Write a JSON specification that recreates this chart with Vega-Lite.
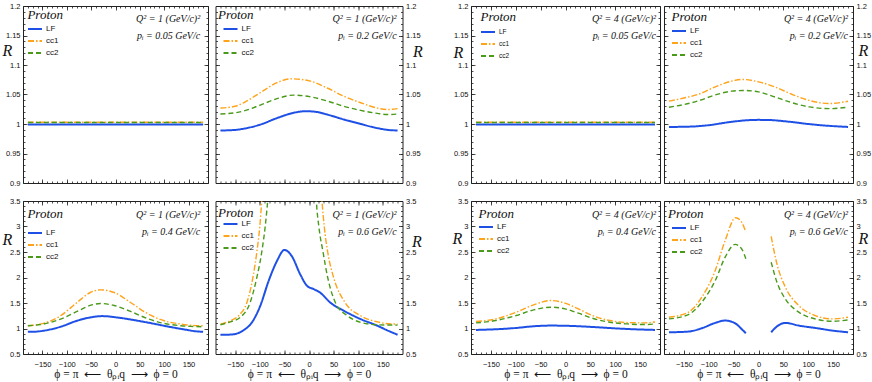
{
"$schema": "https://vega.github.io/schema/vega-lite/v6.json",
"padding": {"left": 1, "top": 1, "right": 0, "bottom": 0},
"datasets": {
"notes": [
{"p":1,"n":"Proton","q":"Q² = 1 (GeV/c)²","m":"pᵢ = 0.05 GeV/c"},
{"p":2,"n":"Proton","q":"Q² = 1 (GeV/c)²","m":"pᵢ = 0.2 GeV/c"},
{"p":3,"n":"Proton","q":"Q² = 4 (GeV/c)²","m":"pᵢ = 0.05 GeV/c"},
{"p":4,"n":"Proton","q":"Q² = 4 (GeV/c)²","m":"pᵢ = 0.2 GeV/c"},
{"p":5,"n":"Proton","q":"Q² = 1 (GeV/c)²","m":"pᵢ = 0.4 GeV/c"},
{"p":6,"n":"Proton","q":"Q² = 1 (GeV/c)²","m":"pᵢ = 0.6 GeV/c"},
{"p":7,"n":"Proton","q":"Q² = 4 (GeV/c)²","m":"pᵢ = 0.4 GeV/c"},
{"p":8,"n":"Proton","q":"Q² = 4 (GeV/c)²","m":"pᵢ = 0.6 GeV/c"}
],
"curves": [
{"p":1,"s":"LF","g":0,"x":-180,"R":0.9993},{"p":1,"s":"LF","g":0,"x":0,"R":0.9993},{"p":1,"s":"LF","g":0,"x":180,"R":0.9993},
{"p":1,"s":"cc1","g":0,"x":-180,"R":1.003},{"p":1,"s":"cc1","g":0,"x":0,"R":1.003},{"p":1,"s":"cc1","g":0,"x":180,"R":1.003},
{"p":1,"s":"cc2","g":0,"x":-180,"R":1.0025},{"p":1,"s":"cc2","g":0,"x":0,"R":1.0025},{"p":1,"s":"cc2","g":0,"x":180,"R":1.0025},

{"p":2,"s":"LF","g":0,"x":-180,"R":0.989},{"p":2,"s":"LF","g":0,"x":-150,"R":0.990},{"p":2,"s":"LF","g":0,"x":-133,"R":0.992},{"p":2,"s":"LF","g":0,"x":-99,"R":0.999},{"p":2,"s":"LF","g":0,"x":-65,"R":1.010},{"p":2,"s":"LF","g":0,"x":-31,"R":1.019},{"p":2,"s":"LF","g":0,"x":-7,"R":1.0217},{"p":2,"s":"LF","g":0,"x":15,"R":1.0205},{"p":2,"s":"LF","g":0,"x":37,"R":1.016},{"p":2,"s":"LF","g":0,"x":71,"R":1.0076},{"p":2,"s":"LF","g":0,"x":105,"R":1.0},{"p":2,"s":"LF","g":0,"x":139,"R":0.993},{"p":2,"s":"LF","g":0,"x":160,"R":0.990},{"p":2,"s":"LF","g":0,"x":180,"R":0.989},
{"p":2,"s":"cc1","g":0,"x":-180,"R":1.027},{"p":2,"s":"cc1","g":0,"x":-150,"R":1.030},{"p":2,"s":"cc1","g":0,"x":-133,"R":1.036},{"p":2,"s":"cc1","g":0,"x":-99,"R":1.053},{"p":2,"s":"cc1","g":0,"x":-65,"R":1.070},{"p":2,"s":"cc1","g":0,"x":-35,"R":1.0766},{"p":2,"s":"cc1","g":0,"x":3,"R":1.0726},{"p":2,"s":"cc1","g":0,"x":37,"R":1.061},{"p":2,"s":"cc1","g":0,"x":71,"R":1.047},{"p":2,"s":"cc1","g":0,"x":105,"R":1.036},{"p":2,"s":"cc1","g":0,"x":139,"R":1.027},{"p":2,"s":"cc1","g":0,"x":158,"R":1.0245},{"p":2,"s":"cc1","g":0,"x":180,"R":1.026},
{"p":2,"s":"cc2","g":0,"x":-180,"R":1.017},{"p":2,"s":"cc2","g":0,"x":-150,"R":1.019},{"p":2,"s":"cc2","g":0,"x":-133,"R":1.022},{"p":2,"s":"cc2","g":0,"x":-99,"R":1.032},{"p":2,"s":"cc2","g":0,"x":-65,"R":1.043},{"p":2,"s":"cc2","g":0,"x":-31,"R":1.049},{"p":2,"s":"cc2","g":0,"x":3,"R":1.046},{"p":2,"s":"cc2","g":0,"x":37,"R":1.039},{"p":2,"s":"cc2","g":0,"x":71,"R":1.030},{"p":2,"s":"cc2","g":0,"x":105,"R":1.023},{"p":2,"s":"cc2","g":0,"x":139,"R":1.018},{"p":2,"s":"cc2","g":0,"x":158,"R":1.016},{"p":2,"s":"cc2","g":0,"x":180,"R":1.017},

{"p":3,"s":"LF","g":0,"x":-180,"R":0.9993},{"p":3,"s":"LF","g":0,"x":0,"R":0.9993},{"p":3,"s":"LF","g":0,"x":180,"R":0.9993},
{"p":3,"s":"cc1","g":0,"x":-180,"R":1.003},{"p":3,"s":"cc1","g":0,"x":0,"R":1.003},{"p":3,"s":"cc1","g":0,"x":180,"R":1.003},
{"p":3,"s":"cc2","g":0,"x":-180,"R":1.0025},{"p":3,"s":"cc2","g":0,"x":0,"R":1.0025},{"p":3,"s":"cc2","g":0,"x":180,"R":1.0025},

{"p":4,"s":"LF","g":0,"x":-180,"R":0.995},{"p":4,"s":"LF","g":0,"x":-140,"R":0.9955},{"p":4,"s":"LF","g":0,"x":-100,"R":0.998},{"p":4,"s":"LF","g":0,"x":-60,"R":1.003},{"p":4,"s":"LF","g":0,"x":-20,"R":1.0065},{"p":4,"s":"LF","g":0,"x":0,"R":1.007},{"p":4,"s":"LF","g":0,"x":20,"R":1.0068},{"p":4,"s":"LF","g":0,"x":60,"R":1.004},{"p":4,"s":"LF","g":0,"x":100,"R":1.0},{"p":4,"s":"LF","g":0,"x":140,"R":0.997},{"p":4,"s":"LF","g":0,"x":180,"R":0.995},
{"p":4,"s":"cc1","g":0,"x":-180,"R":1.0387},{"p":4,"s":"cc1","g":0,"x":-150,"R":1.044},{"p":4,"s":"cc1","g":0,"x":-122,"R":1.050},{"p":4,"s":"cc1","g":0,"x":-88,"R":1.0625},{"p":4,"s":"cc1","g":0,"x":-54,"R":1.0726},{"p":4,"s":"cc1","g":0,"x":-34,"R":1.0755},{"p":4,"s":"cc1","g":0,"x":0,"R":1.0715},{"p":4,"s":"cc1","g":0,"x":34,"R":1.0625},{"p":4,"s":"cc1","g":0,"x":68,"R":1.050},{"p":4,"s":"cc1","g":0,"x":102,"R":1.040},{"p":4,"s":"cc1","g":0,"x":142,"R":1.0347},{"p":4,"s":"cc1","g":0,"x":180,"R":1.0385},
{"p":4,"s":"cc2","g":0,"x":-180,"R":1.0285},{"p":4,"s":"cc2","g":0,"x":-150,"R":1.033},{"p":4,"s":"cc2","g":0,"x":-122,"R":1.039},{"p":4,"s":"cc2","g":0,"x":-88,"R":1.049},{"p":4,"s":"cc2","g":0,"x":-54,"R":1.0557},{"p":4,"s":"cc2","g":0,"x":-31,"R":1.0568},{"p":4,"s":"cc2","g":0,"x":0,"R":1.0545},{"p":4,"s":"cc2","g":0,"x":34,"R":1.0455},{"p":4,"s":"cc2","g":0,"x":68,"R":1.036},{"p":4,"s":"cc2","g":0,"x":102,"R":1.029},{"p":4,"s":"cc2","g":0,"x":142,"R":1.026},{"p":4,"s":"cc2","g":0,"x":180,"R":1.0285},

{"p":5,"s":"LF","g":0,"x":-180,"R":0.935},{"p":5,"s":"LF","g":0,"x":-165,"R":0.938},{"p":5,"s":"LF","g":0,"x":-148,"R":0.956},{"p":5,"s":"LF","g":0,"x":-113,"R":1.034},{"p":5,"s":"LF","g":0,"x":-79,"R":1.152},{"p":5,"s":"LF","g":0,"x":-52,"R":1.217},{"p":5,"s":"LF","g":0,"x":-27,"R":1.243},{"p":5,"s":"LF","g":0,"x":3,"R":1.217},{"p":5,"s":"LF","g":0,"x":38,"R":1.165},{"p":5,"s":"LF","g":0,"x":72,"R":1.106},{"p":5,"s":"LF","g":0,"x":107,"R":1.04},{"p":5,"s":"LF","g":0,"x":141,"R":0.982},{"p":5,"s":"LF","g":0,"x":165,"R":0.945},{"p":5,"s":"LF","g":0,"x":180,"R":0.935},
{"p":5,"s":"cc1","g":0,"x":-180,"R":1.054},{"p":5,"s":"cc1","g":0,"x":-148,"R":1.10},{"p":5,"s":"cc1","g":0,"x":-113,"R":1.25},{"p":5,"s":"cc1","g":0,"x":-79,"R":1.51},{"p":5,"s":"cc1","g":0,"x":-52,"R":1.706},{"p":5,"s":"cc1","g":0,"x":-31,"R":1.758},{"p":5,"s":"cc1","g":0,"x":-3,"R":1.706},{"p":5,"s":"cc1","g":0,"x":31,"R":1.51},{"p":5,"s":"cc1","g":0,"x":65,"R":1.295},{"p":5,"s":"cc1","g":0,"x":100,"R":1.152},{"p":5,"s":"cc1","g":0,"x":134,"R":1.087},{"p":5,"s":"cc1","g":0,"x":160,"R":1.06},{"p":5,"s":"cc1","g":0,"x":180,"R":1.054},
{"p":5,"s":"cc2","g":0,"x":-180,"R":1.054},{"p":5,"s":"cc2","g":0,"x":-148,"R":1.087},{"p":5,"s":"cc2","g":0,"x":-113,"R":1.184},{"p":5,"s":"cc2","g":0,"x":-79,"R":1.334},{"p":5,"s":"cc2","g":0,"x":-52,"R":1.452},{"p":5,"s":"cc2","g":0,"x":-31,"R":1.49},{"p":5,"s":"cc2","g":0,"x":-3,"R":1.452},{"p":5,"s":"cc2","g":0,"x":31,"R":1.334},{"p":5,"s":"cc2","g":0,"x":65,"R":1.197},{"p":5,"s":"cc2","g":0,"x":100,"R":1.10},{"p":5,"s":"cc2","g":0,"x":134,"R":1.054},{"p":5,"s":"cc2","g":0,"x":160,"R":1.04},{"p":5,"s":"cc2","g":0,"x":180,"R":1.034},

{"p":6,"s":"LF","g":0,"x":-180,"R":0.878},{"p":6,"s":"LF","g":0,"x":-161,"R":0.88},{"p":6,"s":"LF","g":0,"x":-147,"R":0.90},{"p":6,"s":"LF","g":0,"x":-133,"R":0.966},{"p":6,"s":"LF","g":0,"x":-116,"R":1.12},{"p":6,"s":"LF","g":0,"x":-99,"R":1.445},{"p":6,"s":"LF","g":0,"x":-82,"R":1.934},{"p":6,"s":"LF","g":0,"x":-65,"R":2.326},{"p":6,"s":"LF","g":0,"x":-50,"R":2.54},{"p":6,"s":"LF","g":0,"x":-35,"R":2.42},{"p":6,"s":"LF","g":0,"x":-18,"R":2.065},{"p":6,"s":"LF","g":0,"x":-4,"R":1.837},{"p":6,"s":"LF","g":0,"x":10,"R":1.77},{"p":6,"s":"LF","g":0,"x":23,"R":1.70},{"p":6,"s":"LF","g":0,"x":43,"R":1.51},{"p":6,"s":"LF","g":0,"x":71,"R":1.347},{"p":6,"s":"LF","g":0,"x":105,"R":1.184},{"p":6,"s":"LF","g":0,"x":139,"R":1.054},{"p":6,"s":"LF","g":0,"x":160,"R":0.96},{"p":6,"s":"LF","g":0,"x":180,"R":0.878},
{"p":6,"s":"cc1","g":0,"x":-180,"R":1.087},{"p":6,"s":"cc1","g":0,"x":-160,"R":1.15},{"p":6,"s":"cc1","g":0,"x":-140,"R":1.28},{"p":6,"s":"cc1","g":0,"x":-126.5,"R":1.5},{"p":6,"s":"cc1","g":0,"x":-114,"R":2.0},{"p":6,"s":"cc1","g":0,"x":-106,"R":2.5},{"p":6,"s":"cc1","g":0,"x":-100,"R":3.0},{"p":6,"s":"cc1","g":0,"x":-96,"R":3.5},{"p":6,"s":"cc1","g":0,"x":-93,"R":3.9},
{"p":6,"s":"cc1","g":1,"x":24,"R":3.9},{"p":6,"s":"cc1","g":1,"x":26.5,"R":3.5},{"p":6,"s":"cc1","g":1,"x":31,"R":3.0},{"p":6,"s":"cc1","g":1,"x":38,"R":2.5},{"p":6,"s":"cc1","g":1,"x":50,"R":2.0},{"p":6,"s":"cc1","g":1,"x":74,"R":1.5},{"p":6,"s":"cc1","g":1,"x":105,"R":1.25},{"p":6,"s":"cc1","g":1,"x":139,"R":1.13},{"p":6,"s":"cc1","g":1,"x":166,"R":1.09},{"p":6,"s":"cc1","g":1,"x":180,"R":1.087},
{"p":6,"s":"cc2","g":0,"x":-180,"R":1.073},{"p":6,"s":"cc2","g":0,"x":-160,"R":1.13},{"p":6,"s":"cc2","g":0,"x":-140,"R":1.217},{"p":6,"s":"cc2","g":0,"x":-120,"R":1.5},{"p":6,"s":"cc2","g":0,"x":-106,"R":2.0},{"p":6,"s":"cc2","g":0,"x":-96,"R":2.5},{"p":6,"s":"cc2","g":0,"x":-89,"R":3.0},{"p":6,"s":"cc2","g":0,"x":-84,"R":3.5},{"p":6,"s":"cc2","g":0,"x":-81,"R":3.9},
{"p":6,"s":"cc2","g":1,"x":13,"R":3.9},{"p":6,"s":"cc2","g":1,"x":15,"R":3.5},{"p":6,"s":"cc2","g":1,"x":20,"R":3.0},{"p":6,"s":"cc2","g":1,"x":28.5,"R":2.5},{"p":6,"s":"cc2","g":1,"x":38,"R":2.0},{"p":6,"s":"cc2","g":1,"x":54,"R":1.5},{"p":6,"s":"cc2","g":1,"x":78,"R":1.25},{"p":6,"s":"cc2","g":1,"x":105,"R":1.12},{"p":6,"s":"cc2","g":1,"x":139,"R":1.073},{"p":6,"s":"cc2","g":1,"x":180,"R":1.067},

{"p":7,"s":"LF","g":0,"x":-180,"R":0.972},{"p":7,"s":"LF","g":0,"x":-140,"R":0.985},{"p":7,"s":"LF","g":0,"x":-99,"R":1.011},{"p":7,"s":"LF","g":0,"x":-64,"R":1.044},{"p":7,"s":"LF","g":0,"x":-29,"R":1.057},{"p":7,"s":"LF","g":0,"x":12,"R":1.05},{"p":7,"s":"LF","g":0,"x":54,"R":1.03},{"p":7,"s":"LF","g":0,"x":96,"R":1.005},{"p":7,"s":"LF","g":0,"x":137,"R":0.985},{"p":7,"s":"LF","g":0,"x":180,"R":0.972},
{"p":7,"s":"cc1","g":0,"x":-180,"R":1.136},{"p":7,"s":"cc1","g":0,"x":-140,"R":1.188},{"p":7,"s":"cc1","g":0,"x":-99,"R":1.32},{"p":7,"s":"cc1","g":0,"x":-64,"R":1.464},{"p":7,"s":"cc1","g":0,"x":-29,"R":1.549},{"p":7,"s":"cc1","g":0,"x":-1,"R":1.496},{"p":7,"s":"cc1","g":0,"x":26,"R":1.385},{"p":7,"s":"cc1","g":0,"x":54,"R":1.254},{"p":7,"s":"cc1","g":0,"x":89,"R":1.156},{"p":7,"s":"cc1","g":0,"x":124,"R":1.116},{"p":7,"s":"cc1","g":0,"x":159,"R":1.11},{"p":7,"s":"cc1","g":0,"x":180,"R":1.129},
{"p":7,"s":"cc2","g":0,"x":-180,"R":1.11},{"p":7,"s":"cc2","g":0,"x":-140,"R":1.156},{"p":7,"s":"cc2","g":0,"x":-99,"R":1.254},{"p":7,"s":"cc2","g":0,"x":-64,"R":1.365},{"p":7,"s":"cc2","g":0,"x":-29,"R":1.418},{"p":7,"s":"cc2","g":0,"x":-1,"R":1.385},{"p":7,"s":"cc2","g":0,"x":26,"R":1.30},{"p":7,"s":"cc2","g":0,"x":54,"R":1.201},{"p":7,"s":"cc2","g":0,"x":89,"R":1.123},{"p":7,"s":"cc2","g":0,"x":124,"R":1.09},{"p":7,"s":"cc2","g":0,"x":159,"R":1.077},{"p":7,"s":"cc2","g":0,"x":180,"R":1.09},

{"p":8,"s":"LF","g":0,"x":-180,"R":0.926},{"p":8,"s":"LF","g":0,"x":-141,"R":0.94},{"p":8,"s":"LF","g":0,"x":-114,"R":1.005},{"p":8,"s":"LF","g":0,"x":-87,"R":1.11},{"p":8,"s":"LF","g":0,"x":-67,"R":1.156},{"p":8,"s":"LF","g":0,"x":-47,"R":1.103},{"p":8,"s":"LF","g":0,"x":-34,"R":0.99},{"p":8,"s":"LF","g":0,"x":-25.5,"R":0.907},
{"p":8,"s":"LF","g":1,"x":25.5,"R":0.926},{"p":8,"s":"LF","g":1,"x":37,"R":1.04},{"p":8,"s":"LF","g":1,"x":54,"R":1.11},{"p":8,"s":"LF","g":1,"x":81,"R":1.057},{"p":8,"s":"LF","g":1,"x":114,"R":1.011},{"p":8,"s":"LF","g":1,"x":148,"R":0.96},{"p":8,"s":"LF","g":1,"x":180,"R":0.926},
{"p":8,"s":"cc1","g":0,"x":-180,"R":1.221},{"p":8,"s":"cc1","g":0,"x":-141,"R":1.32},{"p":8,"s":"cc1","g":0,"x":-114,"R":1.614},{"p":8,"s":"cc1","g":0,"x":-87,"R":2.138},{"p":8,"s":"cc1","g":0,"x":-67,"R":2.727},{"p":8,"s":"cc1","g":0,"x":-46,"R":3.173},{"p":8,"s":"cc1","g":0,"x":-34,"R":3.087},{"p":8,"s":"cc1","g":0,"x":-25.5,"R":2.89},
{"p":8,"s":"cc1","g":1,"x":25.5,"R":2.806},{"p":8,"s":"cc1","g":1,"x":37,"R":2.27},{"p":8,"s":"cc1","g":1,"x":54,"R":1.81},{"p":8,"s":"cc1","g":1,"x":81,"R":1.45},{"p":8,"s":"cc1","g":1,"x":114,"R":1.254},{"p":8,"s":"cc1","g":1,"x":148,"R":1.188},{"p":8,"s":"cc1","g":1,"x":180,"R":1.221},
{"p":8,"s":"cc2","g":0,"x":-180,"R":1.188},{"p":8,"s":"cc2","g":0,"x":-141,"R":1.273},{"p":8,"s":"cc2","g":0,"x":-114,"R":1.516},{"p":8,"s":"cc2","g":0,"x":-87,"R":1.94},{"p":8,"s":"cc2","g":0,"x":-67,"R":2.40},{"p":8,"s":"cc2","g":0,"x":-47,"R":2.649},{"p":8,"s":"cc2","g":0,"x":-34,"R":2.564},{"p":8,"s":"cc2","g":0,"x":-25.5,"R":2.367},
{"p":8,"s":"cc2","g":1,"x":25.5,"R":2.30},{"p":8,"s":"cc2","g":1,"x":37,"R":1.91},{"p":8,"s":"cc2","g":1,"x":54,"R":1.58},{"p":8,"s":"cc2","g":1,"x":81,"R":1.32},{"p":8,"s":"cc2","g":1,"x":114,"R":1.188},{"p":8,"s":"cc2","g":1,"x":148,"R":1.142},{"p":8,"s":"cc2","g":1,"x":180,"R":1.168}
]
},
"spacing": 9,
"resolve": {"legend": {"color": "independent", "strokeDash": "independent"}},
"vconcat": [
{"spacing": 29, "resolve": {"legend": {"color": "independent", "strokeDash": "independent"}},
 "hconcat": [
 {"spacing": 5.5, "resolve": {"legend": {"color": "independent", "strokeDash": "independent"}},
  "hconcat": [
  {"width": 185, "height": 177, "resolve": {"axis": {"x": "independent", "y": "independent"}},
   "layer": [
   {"data": {"name": "curves"}, "transform": [{"filter": "datum.p==1"}],
    "mark": {"type": "line", "clip": true, "interpolate": "monotone"},
    "encoding": {
     "x": {"field": "x", "type": "quantitative", "scale": {"domain": [-190, 190], "nice": false, "zero": false}, "axis": {"orient": "bottom", "values": [-150,-100,-50,0,50,100,150], "tickSize": -4, "labels": false, "title": null}},
     "y": {"field": "R", "type": "quantitative", "scale": {"domain": [0.9, 1.2], "nice": false, "zero": false}, "axis": {"orient": "left", "values": [0.9,0.95,1,1.05,1.1,1.15,1.2], "tickSize": -4, "labelPadding": 7, "format": "~g", "title": "R", "titleX": -16, "titleY": 44}},
     "color": {"field": "s", "type": "nominal", "scale": {"domain": ["LF","cc1","cc2"], "range": ["#1f50e6","#ffa31a","#4a9a1a"]}, "legend": {"title": null, "orient": "none", "legendX": 4, "legendY": 15, "labelFontSize": 8, "rowPadding": -1.5}},
     "strokeDash": {"field": "s", "type": "nominal", "scale": {"domain": ["LF","cc1","cc2"], "range": [[1,0],[6,2,1.5,2],[5,3]]}, "legend": {"title": null, "orient": "none", "legendX": 4, "legendY": 15, "labelFontSize": 8, "rowPadding": -1.5}},
     "strokeWidth": {"condition": {"test": "datum.s==='LF'", "value": 2}, "value": 1.4},
     "detail": {"field": "g"}}},
   {"data": {"name": "notes"}, "transform": [{"filter": "datum.p==1"}], "mark": {"type": "text", "fontSize": 13, "align": "left", "baseline": "middle"},
    "encoding": {"x": {"datum": -181, "type": "quantitative", "axis": {"orient": "top", "values": [-150,-100,-50,0,50,100,150], "tickSize": -4, "labels": false, "title": null}},
     "y": {"datum": 1.184, "type": "quantitative", "axis": {"orient": "right", "values": [0.9,0.95,1,1.05,1.1,1.15,1.2], "tickSize": -4, "labels": false, "title": null}},
     "text": {"field": "n"}}},
   {"data": {"name": "notes"}, "transform": [{"filter": "datum.p==1"}], "mark": {"type": "text", "fontSize": 10, "align": "right", "baseline": "middle"},
    "encoding": {"x": {"datum": 174, "type": "quantitative", "axis": {"orient": "bottom", "values": [-180,-170,-160,-150,-140,-130,-120,-110,-100,-90,-80,-70,-60,-50,-40,-30,-20,-10,0,10,20,30,40,50,60,70,80,90,100,110,120,130,140,150,160,170,180], "tickSize": -2, "labels": false, "title": null}},
     "y": {"datum": 1.178, "type": "quantitative", "axis": {"orient": "left", "values": [0.9,0.91,0.92,0.93,0.94,0.95,0.96,0.97,0.98,0.99,1,1.01,1.02,1.03,1.04,1.05,1.06,1.07,1.08,1.09,1.1,1.11,1.12,1.13,1.14,1.15,1.16,1.17,1.18,1.19,1.2], "tickSize": -2, "labels": false, "title": null}},
     "text": {"field": "q"}}},
   {"data": {"name": "notes"}, "transform": [{"filter": "datum.p==1"}], "mark": {"type": "text", "fontSize": 10, "align": "right", "baseline": "middle"},
    "encoding": {"x": {"datum": 174, "type": "quantitative", "axis": {"orient": "top", "values": [-180,-170,-160,-150,-140,-130,-120,-110,-100,-90,-80,-70,-60,-50,-40,-30,-20,-10,0,10,20,30,40,50,60,70,80,90,100,110,120,130,140,150,160,170,180], "tickSize": -2, "labels": false, "title": null}},
     "y": {"datum": 1.149, "type": "quantitative", "axis": {"orient": "right", "values": [0.9,0.91,0.92,0.93,0.94,0.95,0.96,0.97,0.98,0.99,1,1.01,1.02,1.03,1.04,1.05,1.06,1.07,1.08,1.09,1.1,1.11,1.12,1.13,1.14,1.15,1.16,1.17,1.18,1.19,1.2], "tickSize": -2, "labels": false, "title": null}},
     "text": {"field": "m"}}}
   ]},
  {"width": 187, "height": 177, "resolve": {"axis": {"x": "independent", "y": "independent"}},
   "layer": [
   {"data": {"name": "curves"}, "transform": [{"filter": "datum.p==2"}],
    "mark": {"type": "line", "clip": true, "interpolate": "monotone"},
    "encoding": {
     "x": {"field": "x", "type": "quantitative", "scale": {"domain": [-190, 190], "nice": false, "zero": false}, "axis": {"orient": "bottom", "values": [-150,-100,-50,0,50,100,150], "tickSize": -4, "labels": false, "title": null}},
     "y": {"field": "R", "type": "quantitative", "scale": {"domain": [0.9, 1.2], "nice": false, "zero": false}, "axis": {"orient": "right", "values": [0.9,0.95,1,1.05,1.1,1.15,1.2], "tickSize": -4, "labelPadding": 7, "format": "~g", "title": "R", "titleX": 15, "titleY": 45}},
     "color": {"field": "s", "type": "nominal", "scale": {"domain": ["LF","cc1","cc2"], "range": ["#1f50e6","#ffa31a","#4a9a1a"]}, "legend": {"title": null, "orient": "none", "legendX": 7, "legendY": 15, "labelFontSize": 8, "rowPadding": -1.5}},
     "strokeDash": {"field": "s", "type": "nominal", "scale": {"domain": ["LF","cc1","cc2"], "range": [[1,0],[6,2,1.5,2],[5,3]]}, "legend": {"title": null, "orient": "none", "legendX": 7, "legendY": 15, "labelFontSize": 8, "rowPadding": -1.5}},
     "strokeWidth": {"condition": {"test": "datum.s==='LF'", "value": 2}, "value": 1.4},
     "detail": {"field": "g"}}},
   {"data": {"name": "notes"}, "transform": [{"filter": "datum.p==2"}], "mark": {"type": "text", "fontSize": 13, "align": "left", "baseline": "middle"},
    "encoding": {"x": {"datum": -185, "type": "quantitative", "axis": {"orient": "top", "values": [-150,-100,-50,0,50,100,150], "tickSize": -4, "labels": false, "title": null}},
     "y": {"datum": 1.184, "type": "quantitative", "axis": {"orient": "left", "values": [0.9,0.95,1,1.05,1.1,1.15,1.2], "tickSize": -4, "labels": false, "title": null}},
     "text": {"field": "n"}}},
   {"data": {"name": "notes"}, "transform": [{"filter": "datum.p==2"}], "mark": {"type": "text", "fontSize": 10, "align": "right", "baseline": "middle"},
    "encoding": {"x": {"datum": 178, "type": "quantitative", "axis": {"orient": "bottom", "values": [-180,-170,-160,-150,-140,-130,-120,-110,-100,-90,-80,-70,-60,-50,-40,-30,-20,-10,0,10,20,30,40,50,60,70,80,90,100,110,120,130,140,150,160,170,180], "tickSize": -2, "labels": false, "title": null}},
     "y": {"datum": 1.178, "type": "quantitative", "axis": {"orient": "right", "values": [0.9,0.91,0.92,0.93,0.94,0.95,0.96,0.97,0.98,0.99,1,1.01,1.02,1.03,1.04,1.05,1.06,1.07,1.08,1.09,1.1,1.11,1.12,1.13,1.14,1.15,1.16,1.17,1.18,1.19,1.2], "tickSize": -2, "labels": false, "title": null}},
     "text": {"field": "q"}}},
   {"data": {"name": "notes"}, "transform": [{"filter": "datum.p==2"}], "mark": {"type": "text", "fontSize": 10, "align": "right", "baseline": "middle"},
    "encoding": {"x": {"datum": 178, "type": "quantitative", "axis": {"orient": "top", "values": [-180,-170,-160,-150,-140,-130,-120,-110,-100,-90,-80,-70,-60,-50,-40,-30,-20,-10,0,10,20,30,40,50,60,70,80,90,100,110,120,130,140,150,160,170,180], "tickSize": -2, "labels": false, "title": null}},
     "y": {"datum": 1.149, "type": "quantitative", "axis": {"orient": "left", "values": [0.9,0.91,0.92,0.93,0.94,0.95,0.96,0.97,0.98,0.99,1,1.01,1.02,1.03,1.04,1.05,1.06,1.07,1.08,1.09,1.1,1.11,1.12,1.13,1.14,1.15,1.16,1.17,1.18,1.19,1.2], "tickSize": -2, "labels": false, "title": null}},
     "text": {"field": "m"}}}
   ]}
  ]},
 {"spacing": 2, "resolve": {"legend": {"color": "independent", "strokeDash": "independent"}},
  "hconcat": [
  {"width": 189, "height": 177, "resolve": {"axis": {"x": "independent", "y": "independent"}},
   "layer": [
   {"data": {"name": "curves"}, "transform": [{"filter": "datum.p==3"}],
    "mark": {"type": "line", "clip": true, "interpolate": "monotone"},
    "encoding": {
     "x": {"field": "x", "type": "quantitative", "scale": {"domain": [-190, 190], "nice": false, "zero": false}, "axis": {"orient": "bottom", "values": [-150,-100,-50,0,50,100,150], "tickSize": -4, "labels": false, "title": null}},
     "y": {"field": "R", "type": "quantitative", "scale": {"domain": [0.9, 1.2], "nice": false, "zero": false}, "axis": {"orient": "left", "values": [0.9,0.95,1,1.05,1.1,1.15,1.2], "tickSize": -4, "labelPadding": 7, "format": "~g", "title": "R", "titleX": -13, "titleY": 46}},
     "color": {"field": "s", "type": "nominal", "scale": {"domain": ["LF","cc1","cc2"], "range": ["#1f50e6","#ffa31a","#4a9a1a"]}, "legend": {"title": null, "orient": "none", "legendX": 9, "legendY": 18, "labelFontSize": 6.5, "rowPadding": -7}},
     "strokeDash": {"field": "s", "type": "nominal", "scale": {"domain": ["LF","cc1","cc2"], "range": [[1,0],[6,2,1.5,2],[5,3]]}, "legend": {"title": null, "orient": "none", "legendX": 9, "legendY": 18, "labelFontSize": 6.5, "rowPadding": -7}},
     "strokeWidth": {"condition": {"test": "datum.s==='LF'", "value": 2}, "value": 1.4},
     "detail": {"field": "g"}}},
   {"data": {"name": "notes"}, "transform": [{"filter": "datum.p==3"}], "mark": {"type": "text", "fontSize": 13, "align": "left", "baseline": "middle"},
    "encoding": {"x": {"datum": -171, "type": "quantitative", "axis": {"orient": "top", "values": [-150,-100,-50,0,50,100,150], "tickSize": -4, "labels": false, "title": null}},
     "y": {"datum": 1.182, "type": "quantitative", "axis": {"orient": "right", "values": [0.9,0.95,1,1.05,1.1,1.15,1.2], "tickSize": -4, "labels": false, "title": null}},
     "text": {"field": "n"}}},
   {"data": {"name": "notes"}, "transform": [{"filter": "datum.p==3"}], "mark": {"type": "text", "fontSize": 10, "align": "right", "baseline": "middle"},
    "encoding": {"x": {"datum": 182, "type": "quantitative", "axis": {"orient": "bottom", "values": [-180,-170,-160,-150,-140,-130,-120,-110,-100,-90,-80,-70,-60,-50,-40,-30,-20,-10,0,10,20,30,40,50,60,70,80,90,100,110,120,130,140,150,160,170,180], "tickSize": -2, "labels": false, "title": null}},
     "y": {"datum": 1.178, "type": "quantitative", "axis": {"orient": "left", "values": [0.9,0.91,0.92,0.93,0.94,0.95,0.96,0.97,0.98,0.99,1,1.01,1.02,1.03,1.04,1.05,1.06,1.07,1.08,1.09,1.1,1.11,1.12,1.13,1.14,1.15,1.16,1.17,1.18,1.19,1.2], "tickSize": -2, "labels": false, "title": null}},
     "text": {"field": "q"}}},
   {"data": {"name": "notes"}, "transform": [{"filter": "datum.p==3"}], "mark": {"type": "text", "fontSize": 10, "align": "right", "baseline": "middle"},
    "encoding": {"x": {"datum": 182, "type": "quantitative", "axis": {"orient": "top", "values": [-180,-170,-160,-150,-140,-130,-120,-110,-100,-90,-80,-70,-60,-50,-40,-30,-20,-10,0,10,20,30,40,50,60,70,80,90,100,110,120,130,140,150,160,170,180], "tickSize": -2, "labels": false, "title": null}},
     "y": {"datum": 1.149, "type": "quantitative", "axis": {"orient": "right", "values": [0.9,0.91,0.92,0.93,0.94,0.95,0.96,0.97,0.98,0.99,1,1.01,1.02,1.03,1.04,1.05,1.06,1.07,1.08,1.09,1.1,1.11,1.12,1.13,1.14,1.15,1.16,1.17,1.18,1.19,1.2], "tickSize": -2, "labels": false, "title": null}},
     "text": {"field": "m"}}}
   ]},
  {"width": 189, "height": 177, "resolve": {"axis": {"x": "independent", "y": "independent"}},
   "layer": [
   {"data": {"name": "curves"}, "transform": [{"filter": "datum.p==4"}],
    "mark": {"type": "line", "clip": true, "interpolate": "monotone"},
    "encoding": {
     "x": {"field": "x", "type": "quantitative", "scale": {"domain": [-190, 190], "nice": false, "zero": false}, "axis": {"orient": "bottom", "values": [-150,-100,-50,0,50,100,150], "tickSize": -4, "labels": false, "title": null}},
     "y": {"field": "R", "type": "quantitative", "scale": {"domain": [0.9, 1.2], "nice": false, "zero": false}, "axis": {"orient": "right", "values": [0.9,0.95,1,1.05,1.1,1.15,1.2], "tickSize": -4, "labelPadding": 7, "format": "~g", "title": "R", "titleX": 10, "titleY": 44}},
     "color": {"field": "s", "type": "nominal", "scale": {"domain": ["LF","cc1","cc2"], "range": ["#1f50e6","#ffa31a","#4a9a1a"]}, "legend": {"title": null, "orient": "none", "legendX": 7, "legendY": 17, "labelFontSize": 8, "rowPadding": -1.5}},
     "strokeDash": {"field": "s", "type": "nominal", "scale": {"domain": ["LF","cc1","cc2"], "range": [[1,0],[6,2,1.5,2],[5,3]]}, "legend": {"title": null, "orient": "none", "legendX": 7, "legendY": 17, "labelFontSize": 8, "rowPadding": -1.5}},
     "strokeWidth": {"condition": {"test": "datum.s==='LF'", "value": 2}, "value": 1.4},
     "detail": {"field": "g"}}},
   {"data": {"name": "notes"}, "transform": [{"filter": "datum.p==4"}], "mark": {"type": "text", "fontSize": 13, "align": "left", "baseline": "middle"},
    "encoding": {"x": {"datum": -175, "type": "quantitative", "axis": {"orient": "top", "values": [-150,-100,-50,0,50,100,150], "tickSize": -4, "labels": false, "title": null}},
     "y": {"datum": 1.182, "type": "quantitative", "axis": {"orient": "left", "values": [0.9,0.95,1,1.05,1.1,1.15,1.2], "tickSize": -4, "labels": false, "title": null}},
     "text": {"field": "n"}}},
   {"data": {"name": "notes"}, "transform": [{"filter": "datum.p==4"}], "mark": {"type": "text", "fontSize": 10, "align": "right", "baseline": "middle"},
    "encoding": {"x": {"datum": 180, "type": "quantitative", "axis": {"orient": "bottom", "values": [-180,-170,-160,-150,-140,-130,-120,-110,-100,-90,-80,-70,-60,-50,-40,-30,-20,-10,0,10,20,30,40,50,60,70,80,90,100,110,120,130,140,150,160,170,180], "tickSize": -2, "labels": false, "title": null}},
     "y": {"datum": 1.178, "type": "quantitative", "axis": {"orient": "right", "values": [0.9,0.91,0.92,0.93,0.94,0.95,0.96,0.97,0.98,0.99,1,1.01,1.02,1.03,1.04,1.05,1.06,1.07,1.08,1.09,1.1,1.11,1.12,1.13,1.14,1.15,1.16,1.17,1.18,1.19,1.2], "tickSize": -2, "labels": false, "title": null}},
     "text": {"field": "q"}}},
   {"data": {"name": "notes"}, "transform": [{"filter": "datum.p==4"}], "mark": {"type": "text", "fontSize": 10, "align": "right", "baseline": "middle"},
    "encoding": {"x": {"datum": 180, "type": "quantitative", "axis": {"orient": "top", "values": [-180,-170,-160,-150,-140,-130,-120,-110,-100,-90,-80,-70,-60,-50,-40,-30,-20,-10,0,10,20,30,40,50,60,70,80,90,100,110,120,130,140,150,160,170,180], "tickSize": -2, "labels": false, "title": null}},
     "y": {"datum": 1.149, "type": "quantitative", "axis": {"orient": "left", "values": [0.9,0.91,0.92,0.93,0.94,0.95,0.96,0.97,0.98,0.99,1,1.01,1.02,1.03,1.04,1.05,1.06,1.07,1.08,1.09,1.1,1.11,1.12,1.13,1.14,1.15,1.16,1.17,1.18,1.19,1.2], "tickSize": -2, "labels": false, "title": null}},
     "text": {"field": "m"}}}
   ]}
  ]}
 ]},
{"spacing": 29, "resolve": {"legend": {"color": "independent", "strokeDash": "independent"}},
 "hconcat": [
 {"spacing": 5.5, "resolve": {"legend": {"color": "independent", "strokeDash": "independent"}},
  "hconcat": [
  {"width": 185, "height": 153, "resolve": {"axis": {"x": "independent", "y": "independent"}},
   "layer": [
   {"data": {"name": "curves"}, "transform": [{"filter": "datum.p==5"}],
    "mark": {"type": "line", "clip": true, "interpolate": "monotone"},
    "encoding": {
     "x": {"field": "x", "type": "quantitative", "scale": {"domain": [-190, 190], "nice": false, "zero": false}, "axis": {"orient": "bottom", "values": [-150,-100,-50,0,50,100,150], "tickSize": -4, "labelPadding": 10, "title": "ϕ = π\u2002⟵\u2002θₚᵢq\u2002⟶\u2002ϕ = 0"}},
     "y": {"field": "R", "type": "quantitative", "scale": {"domain": [0.5, 3.5], "nice": false, "zero": false}, "axis": {"orient": "left", "values": [0.5,1,1.5,2,2.5,3,3.5], "tickSize": -4, "labelPadding": 7, "format": "~g", "title": "R", "titleX": -16, "titleY": 38}},
     "color": {"field": "s", "type": "nominal", "scale": {"domain": ["LF","cc1","cc2"], "range": ["#1f50e6","#ffa31a","#4a9a1a"]}, "legend": {"title": null, "orient": "none", "legendX": 4, "legendY": 24, "labelFontSize": 8, "rowPadding": -1.5}},
     "strokeDash": {"field": "s", "type": "nominal", "scale": {"domain": ["LF","cc1","cc2"], "range": [[1,0],[6,2,1.5,2],[5,3]]}, "legend": {"title": null, "orient": "none", "legendX": 4, "legendY": 24, "labelFontSize": 8, "rowPadding": -1.5}},
     "strokeWidth": {"condition": {"test": "datum.s==='LF'", "value": 2}, "value": 1.4},
     "detail": {"field": "g"}}},
   {"data": {"name": "notes"}, "transform": [{"filter": "datum.p==5"}], "mark": {"type": "text", "fontSize": 13, "align": "left", "baseline": "middle"},
    "encoding": {"x": {"datum": -181, "type": "quantitative", "axis": {"orient": "top", "values": [-150,-100,-50,0,50,100,150], "tickSize": -4, "labels": false, "title": null}},
     "y": {"datum": 3.25, "type": "quantitative", "axis": {"orient": "right", "values": [0.5,1,1.5,2,2.5,3,3.5], "tickSize": -4, "labels": false, "title": null}},
     "text": {"field": "n"}}},
   {"data": {"name": "notes"}, "transform": [{"filter": "datum.p==5"}], "mark": {"type": "text", "fontSize": 10, "align": "right", "baseline": "middle"},
    "encoding": {"x": {"datum": 174, "type": "quantitative", "axis": {"orient": "bottom", "values": [-180,-170,-160,-150,-140,-130,-120,-110,-100,-90,-80,-70,-60,-50,-40,-30,-20,-10,0,10,20,30,40,50,60,70,80,90,100,110,120,130,140,150,160,170,180], "tickSize": -2, "labels": false, "title": null}},
     "y": {"datum": 3.226, "type": "quantitative", "axis": {"orient": "left", "values": [0.5,0.6,0.7,0.8,0.9,1,1.1,1.2,1.3,1.4,1.5,1.6,1.7,1.8,1.9,2,2.1,2.2,2.3,2.4,2.5,2.6,2.7,2.8,2.9,3,3.1,3.2,3.3,3.4,3.5], "tickSize": -2, "labels": false, "title": null}},
     "text": {"field": "q"}}},
   {"data": {"name": "notes"}, "transform": [{"filter": "datum.p==5"}], "mark": {"type": "text", "fontSize": 10, "align": "right", "baseline": "middle"},
    "encoding": {"x": {"datum": 174, "type": "quantitative", "axis": {"orient": "top", "values": [-180,-170,-160,-150,-140,-130,-120,-110,-100,-90,-80,-70,-60,-50,-40,-30,-20,-10,0,10,20,30,40,50,60,70,80,90,100,110,120,130,140,150,160,170,180], "tickSize": -2, "labels": false, "title": null}},
     "y": {"datum": 2.898, "type": "quantitative", "axis": {"orient": "right", "values": [0.5,0.6,0.7,0.8,0.9,1,1.1,1.2,1.3,1.4,1.5,1.6,1.7,1.8,1.9,2,2.1,2.2,2.3,2.4,2.5,2.6,2.7,2.8,2.9,3,3.1,3.2,3.3,3.4,3.5], "tickSize": -2, "labels": false, "title": null}},
     "text": {"field": "m"}}}
   ]},
  {"width": 187, "height": 153, "resolve": {"axis": {"x": "independent", "y": "independent"}},
   "layer": [
   {"data": {"name": "curves"}, "transform": [{"filter": "datum.p==6"}],
    "mark": {"type": "line", "clip": true, "interpolate": "monotone"},
    "encoding": {
     "x": {"field": "x", "type": "quantitative", "scale": {"domain": [-190, 190], "nice": false, "zero": false}, "axis": {"orient": "bottom", "values": [-150,-100,-50,0,50,100,150], "tickSize": -4, "labelPadding": 10, "title": "ϕ = π\u2002⟵\u2002θₚᵢq\u2002⟶\u2002ϕ = 0"}},
     "y": {"field": "R", "type": "quantitative", "scale": {"domain": [0.5, 3.5], "nice": false, "zero": false}, "axis": {"orient": "right", "values": [0.5,1,1.5,2,2.5,3,3.5], "tickSize": -4, "labelPadding": 7, "format": "~g", "title": "R", "titleX": 14, "titleY": 40}},
     "color": {"field": "s", "type": "nominal", "scale": {"domain": ["LF","cc1","cc2"], "range": ["#1f50e6","#ffa31a","#4a9a1a"]}, "legend": {"title": null, "orient": "none", "legendX": 7, "legendY": 15, "labelFontSize": 8, "rowPadding": -0.5}},
     "strokeDash": {"field": "s", "type": "nominal", "scale": {"domain": ["LF","cc1","cc2"], "range": [[1,0],[6,2,1.5,2],[5,3]]}, "legend": {"title": null, "orient": "none", "legendX": 7, "legendY": 15, "labelFontSize": 8, "rowPadding": -0.5}},
     "strokeWidth": {"condition": {"test": "datum.s==='LF'", "value": 2}, "value": 1.4},
     "detail": {"field": "g"}}},
   {"data": {"name": "notes"}, "transform": [{"filter": "datum.p==6"}], "mark": {"type": "text", "fontSize": 13, "align": "left", "baseline": "middle"},
    "encoding": {"x": {"datum": -185, "type": "quantitative", "axis": {"orient": "top", "values": [-150,-100,-50,0,50,100,150], "tickSize": -4, "labels": false, "title": null}},
     "y": {"datum": 3.27, "type": "quantitative", "axis": {"orient": "left", "values": [0.5,1,1.5,2,2.5,3,3.5], "tickSize": -4, "labels": false, "title": null}},
     "text": {"field": "n"}}},
   {"data": {"name": "notes"}, "transform": [{"filter": "datum.p==6"}], "mark": {"type": "text", "fontSize": 10, "align": "right", "baseline": "middle"},
    "encoding": {"x": {"datum": 178, "type": "quantitative", "axis": {"orient": "bottom", "values": [-180,-170,-160,-150,-140,-130,-120,-110,-100,-90,-80,-70,-60,-50,-40,-30,-20,-10,0,10,20,30,40,50,60,70,80,90,100,110,120,130,140,150,160,170,180], "tickSize": -2, "labels": false, "title": null}},
     "y": {"datum": 3.226, "type": "quantitative", "axis": {"orient": "right", "values": [0.5,0.6,0.7,0.8,0.9,1,1.1,1.2,1.3,1.4,1.5,1.6,1.7,1.8,1.9,2,2.1,2.2,2.3,2.4,2.5,2.6,2.7,2.8,2.9,3,3.1,3.2,3.3,3.4,3.5], "tickSize": -2, "labels": false, "title": null}},
     "text": {"field": "q"}}},
   {"data": {"name": "notes"}, "transform": [{"filter": "datum.p==6"}], "mark": {"type": "text", "fontSize": 10, "align": "right", "baseline": "middle"},
    "encoding": {"x": {"datum": 178, "type": "quantitative", "axis": {"orient": "top", "values": [-180,-170,-160,-150,-140,-130,-120,-110,-100,-90,-80,-70,-60,-50,-40,-30,-20,-10,0,10,20,30,40,50,60,70,80,90,100,110,120,130,140,150,160,170,180], "tickSize": -2, "labels": false, "title": null}},
     "y": {"datum": 2.898, "type": "quantitative", "axis": {"orient": "left", "values": [0.5,0.6,0.7,0.8,0.9,1,1.1,1.2,1.3,1.4,1.5,1.6,1.7,1.8,1.9,2,2.1,2.2,2.3,2.4,2.5,2.6,2.7,2.8,2.9,3,3.1,3.2,3.3,3.4,3.5], "tickSize": -2, "labels": false, "title": null}},
     "text": {"field": "m"}}}
   ]}
  ]},
 {"spacing": 2, "resolve": {"legend": {"color": "independent", "strokeDash": "independent"}},
  "hconcat": [
  {"width": 189, "height": 153, "resolve": {"axis": {"x": "independent", "y": "independent"}},
   "layer": [
   {"data": {"name": "curves"}, "transform": [{"filter": "datum.p==7"}],
    "mark": {"type": "line", "clip": true, "interpolate": "monotone"},
    "encoding": {
     "x": {"field": "x", "type": "quantitative", "scale": {"domain": [-190, 190], "nice": false, "zero": false}, "axis": {"orient": "bottom", "values": [-150,-100,-50,0,50,100,150], "tickSize": -4, "labelPadding": 10, "title": "ϕ = π\u2002⟵\u2002θₚᵢq\u2002⟶\u2002ϕ = 0"}},
     "y": {"field": "R", "type": "quantitative", "scale": {"domain": [0.5, 3.5], "nice": false, "zero": false}, "axis": {"orient": "left", "values": [0.5,1,1.5,2,2.5,3,3.5], "tickSize": -4, "labelPadding": 7, "format": "~g", "title": "R", "titleX": -14, "titleY": 37}},
     "color": {"field": "s", "type": "nominal", "scale": {"domain": ["LF","cc1","cc2"], "range": ["#1f50e6","#ffa31a","#4a9a1a"]}, "legend": {"title": null, "orient": "none", "legendX": 7, "legendY": 18, "labelFontSize": 8, "rowPadding": -1.5}},
     "strokeDash": {"field": "s", "type": "nominal", "scale": {"domain": ["LF","cc1","cc2"], "range": [[1,0],[6,2,1.5,2],[5,3]]}, "legend": {"title": null, "orient": "none", "legendX": 7, "legendY": 18, "labelFontSize": 8, "rowPadding": -1.5}},
     "strokeWidth": {"condition": {"test": "datum.s==='LF'", "value": 2}, "value": 1.4},
     "detail": {"field": "g"}}},
   {"data": {"name": "notes"}, "transform": [{"filter": "datum.p==7"}], "mark": {"type": "text", "fontSize": 13, "align": "left", "baseline": "middle"},
    "encoding": {"x": {"datum": -175, "type": "quantitative", "axis": {"orient": "top", "values": [-150,-100,-50,0,50,100,150], "tickSize": -4, "labels": false, "title": null}},
     "y": {"datum": 3.25, "type": "quantitative", "axis": {"orient": "right", "values": [0.5,1,1.5,2,2.5,3,3.5], "tickSize": -4, "labels": false, "title": null}},
     "text": {"field": "n"}}},
   {"data": {"name": "notes"}, "transform": [{"filter": "datum.p==7"}], "mark": {"type": "text", "fontSize": 10, "align": "right", "baseline": "middle"},
    "encoding": {"x": {"datum": 182, "type": "quantitative", "axis": {"orient": "bottom", "values": [-180,-170,-160,-150,-140,-130,-120,-110,-100,-90,-80,-70,-60,-50,-40,-30,-20,-10,0,10,20,30,40,50,60,70,80,90,100,110,120,130,140,150,160,170,180], "tickSize": -2, "labels": false, "title": null}},
     "y": {"datum": 3.226, "type": "quantitative", "axis": {"orient": "left", "values": [0.5,0.6,0.7,0.8,0.9,1,1.1,1.2,1.3,1.4,1.5,1.6,1.7,1.8,1.9,2,2.1,2.2,2.3,2.4,2.5,2.6,2.7,2.8,2.9,3,3.1,3.2,3.3,3.4,3.5], "tickSize": -2, "labels": false, "title": null}},
     "text": {"field": "q"}}},
   {"data": {"name": "notes"}, "transform": [{"filter": "datum.p==7"}], "mark": {"type": "text", "fontSize": 10, "align": "right", "baseline": "middle"},
    "encoding": {"x": {"datum": 182, "type": "quantitative", "axis": {"orient": "top", "values": [-180,-170,-160,-150,-140,-130,-120,-110,-100,-90,-80,-70,-60,-50,-40,-30,-20,-10,0,10,20,30,40,50,60,70,80,90,100,110,120,130,140,150,160,170,180], "tickSize": -2, "labels": false, "title": null}},
     "y": {"datum": 2.898, "type": "quantitative", "axis": {"orient": "right", "values": [0.5,0.6,0.7,0.8,0.9,1,1.1,1.2,1.3,1.4,1.5,1.6,1.7,1.8,1.9,2,2.1,2.2,2.3,2.4,2.5,2.6,2.7,2.8,2.9,3,3.1,3.2,3.3,3.4,3.5], "tickSize": -2, "labels": false, "title": null}},
     "text": {"field": "m"}}}
   ]},
  {"width": 189, "height": 153, "resolve": {"axis": {"x": "independent", "y": "independent"}},
   "layer": [
   {"data": {"name": "curves"}, "transform": [{"filter": "datum.p==8"}],
    "mark": {"type": "line", "clip": true, "interpolate": "monotone"},
    "encoding": {
     "x": {"field": "x", "type": "quantitative", "scale": {"domain": [-190, 190], "nice": false, "zero": false}, "axis": {"orient": "bottom", "values": [-150,-100,-50,0,50,100,150], "tickSize": -4, "labelPadding": 10, "title": "ϕ = π\u2002⟵\u2002θₚᵢq\u2002⟶\u2002ϕ = 0"}},
     "y": {"field": "R", "type": "quantitative", "scale": {"domain": [0.5, 3.5], "nice": false, "zero": false}, "axis": {"orient": "right", "values": [0.5,1,1.5,2,2.5,3,3.5], "tickSize": -4, "labelPadding": 7, "format": "~g", "title": "R", "titleX": 10, "titleY": 37}},
     "color": {"field": "s", "type": "nominal", "scale": {"domain": ["LF","cc1","cc2"], "range": ["#1f50e6","#ffa31a","#4a9a1a"]}, "legend": {"title": null, "orient": "none", "legendX": 7, "legendY": 19, "labelFontSize": 8, "rowPadding": -1.5}},
     "strokeDash": {"field": "s", "type": "nominal", "scale": {"domain": ["LF","cc1","cc2"], "range": [[1,0],[6,2,1.5,2],[5,3]]}, "legend": {"title": null, "orient": "none", "legendX": 7, "legendY": 19, "labelFontSize": 8, "rowPadding": -1.5}},
     "strokeWidth": {"condition": {"test": "datum.s==='LF'", "value": 2}, "value": 1.4},
     "detail": {"field": "g"}}},
   {"data": {"name": "notes"}, "transform": [{"filter": "datum.p==8"}], "mark": {"type": "text", "fontSize": 13, "align": "left", "baseline": "middle"},
    "encoding": {"x": {"datum": -182, "type": "quantitative", "axis": {"orient": "top", "values": [-150,-100,-50,0,50,100,150], "tickSize": -4, "labels": false, "title": null}},
     "y": {"datum": 3.25, "type": "quantitative", "axis": {"orient": "left", "values": [0.5,1,1.5,2,2.5,3,3.5], "tickSize": -4, "labels": false, "title": null}},
     "text": {"field": "n"}}},
   {"data": {"name": "notes"}, "transform": [{"filter": "datum.p==8"}], "mark": {"type": "text", "fontSize": 10, "align": "right", "baseline": "middle"},
    "encoding": {"x": {"datum": 180, "type": "quantitative", "axis": {"orient": "bottom", "values": [-180,-170,-160,-150,-140,-130,-120,-110,-100,-90,-80,-70,-60,-50,-40,-30,-20,-10,0,10,20,30,40,50,60,70,80,90,100,110,120,130,140,150,160,170,180], "tickSize": -2, "labels": false, "title": null}},
     "y": {"datum": 3.226, "type": "quantitative", "axis": {"orient": "right", "values": [0.5,0.6,0.7,0.8,0.9,1,1.1,1.2,1.3,1.4,1.5,1.6,1.7,1.8,1.9,2,2.1,2.2,2.3,2.4,2.5,2.6,2.7,2.8,2.9,3,3.1,3.2,3.3,3.4,3.5], "tickSize": -2, "labels": false, "title": null}},
     "text": {"field": "q"}}},
   {"data": {"name": "notes"}, "transform": [{"filter": "datum.p==8"}], "mark": {"type": "text", "fontSize": 10, "align": "right", "baseline": "middle"},
    "encoding": {"x": {"datum": 180, "type": "quantitative", "axis": {"orient": "top", "values": [-180,-170,-160,-150,-140,-130,-120,-110,-100,-90,-80,-70,-60,-50,-40,-30,-20,-10,0,10,20,30,40,50,60,70,80,90,100,110,120,130,140,150,160,170,180], "tickSize": -2, "labels": false, "title": null}},
     "y": {"datum": 2.898, "type": "quantitative", "axis": {"orient": "left", "values": [0.5,0.6,0.7,0.8,0.9,1,1.1,1.2,1.3,1.4,1.5,1.6,1.7,1.8,1.9,2,2.1,2.2,2.3,2.4,2.5,2.6,2.7,2.8,2.9,3,3.1,3.2,3.3,3.4,3.5], "tickSize": -2, "labels": false, "title": null}},
     "text": {"field": "m"}}}
   ]}
  ]}
 ]}
],
"config": {
 "view": {"stroke": "#222", "strokeWidth": 1},
 "axis": {"domain": false, "grid": false, "tickColor": "#222", "tickWidth": 0.8, "labelColor": "#111", "labelFont": "Liberation Sans", "labelFontSize": 7.5, "labelOverlap": false, "titleColor": "#111", "titleFont": "Liberation Serif", "titleFontWeight": "normal"},
 "axisX": {"titleFontSize": 11.5, "titlePadding": 1},
 "axisY": {"titleFontSize": 16, "titleFontStyle": "italic", "titleAngle": 0, "titleAlign": "center", "titleBaseline": "middle"},
 "legend": {"symbolType": "stroke", "symbolSize": 196, "symbolStrokeWidth": 1.8, "labelFont": "Liberation Sans", "labelColor": "#111", "padding": 0, "labelOffset": 3},
 "text": {"font": "Liberation Serif", "fontStyle": "italic", "color": "#111"}
}
}
